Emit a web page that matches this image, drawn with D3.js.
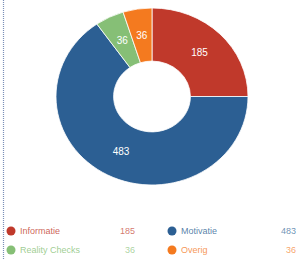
<!DOCTYPE html>
<html>
<head>
<meta charset="utf-8">
<script src="https://cdn.jsdelivr.net/npm/d3@7"></script>
<style>
body { margin: 0; background: #fff; }
text { font-family: "Liberation Sans", Arial, sans-serif; }
</style>
</head>
<body>
<div id="viz"></div>
<script>
var w = 299;
var h = 259;

var categories = ["Informatie", "Motivatie", "Reality Checks", "Overig"];
var values = [185, 483, 36, 36];
var colors = ["#c0392b", "#2c5f93", "#86bf76", "#f47a1f"];

var svg = d3.select("#viz")
    .append("svg")
    .attr("width", w)
    .attr("height", h);

// dotted border on the left
svg.append("line")
    .attr("x1", 3.5).attr("x2", 3.5)
    .attr("y1", 0).attr("y2", h)
    .attr("stroke", "#7a8fb8")
    .attr("stroke-width", 1.2)
    .attr("stroke-dasharray", "1,1");

var data = categories.map(function (c, i) {
    return { name: c, value: values[i], color: colors[i] };
});

var pie = d3.pie()
    .sort(null)
    .value(function (d) { return d.value; });

var r = 92;
var arc = d3.arc()
    .innerRadius(r * 0.4)
    .outerRadius(r);

// chart is slightly wider than tall
var donut = svg.append("g")
    .attr("transform", "translate(152,96.5) scale(" + (96 / r) + "," + (88.5 / r) + ")");

var arcs = pie(data);

donut.selectAll("path")
    .data(arcs)
    .enter()
    .append("path")
    .attr("d", arc)
    .attr("fill", function (d) { return d.data.color; })
    .attr("stroke", "#fff")
    .attr("stroke-width", 0.8);

donut.selectAll("text")
    .data(arcs)
    .enter()
    .append("text")
    .attr("transform", function (d) {
        var c = arc.centroid(d);
        return "translate(" + c[0] + "," + c[1] + ") scale(" + (r / 96) + "," + (r / 88.5) + ")";
    })
    .attr("text-anchor", "middle")
    .attr("dy", "0.35em")
    .attr("fill", "#fff")
    .attr("font-size", 10)
    .text(function (d) { return d.data.value; });

// legend
var legend = svg.append("g").selectAll("g")
    .data(data)
    .enter()
    .append("g")
    .attr("transform", function (d, i) {
        var col = i % 2;
        var row = Math.floor(i / 2);
        return "translate(" + (col == 0 ? 11 : 172) + "," + (231 + row * 19) + ")";
    });

legend.append("circle")
    .attr("r", 4.5)
    .attr("fill", function (d) { return d.color; });

legend.append("text")
    .attr("x", 9)
    .attr("dy", "0.35em")
    .attr("font-size", 9)
    .attr("fill", function (d) { return d.color; })
    .attr("fill-opacity", 0.8)
    .text(function (d) { return d.name; });

legend.append("text")
    .attr("x", 124)
    .attr("dy", "0.35em")
    .attr("text-anchor", "end")
    .attr("font-size", 9)
    .attr("fill", function (d) { return d.color; })
    .attr("fill-opacity", 0.7)
    .text(function (d) { return d.value; });
</script>
</body>
</html>
